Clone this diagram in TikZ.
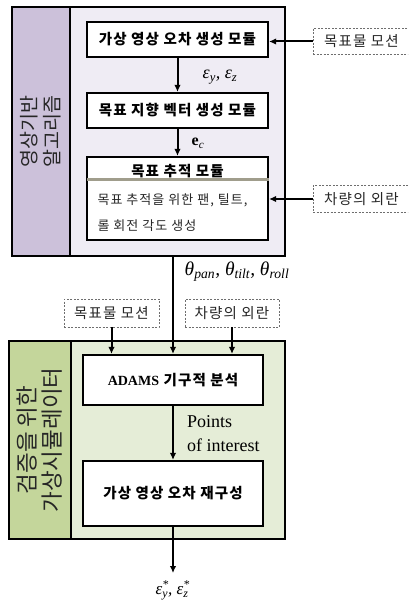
\documentclass[tikz,border=0pt]{standalone}
\usepackage{fontspec}
\setmainfont{Liberation Serif}
\newfontfamily\kr[LetterSpace=8]{Noto Sans CJK KR}
\newfontfamily\krv{Noto Sans CJK KR}
\usetikzlibrary{arrows.meta}
\definecolor{purpS}{RGB}{204,193,218}
\definecolor{purpI}{RGB}{239,236,244}
\definecolor{grnS}{RGB}{196,214,155}
\definecolor{grnI}{RGB}{229,237,215}
\definecolor{sepc}{RGB}{160,157,140}
\definecolor{dashc}{RGB}{110,110,110}
\newcommand\supsub[2]{\rlap{\textsuperscript{#1}}\textsubscript{#2}}
\begin{document}
\begin{tikzpicture}[x=1pt,y=-1pt,
  frame/.style={draw, line width=1.8pt, inner sep=0pt},
  box/.style={draw, line width=2.2pt, fill=white, inner sep=0pt, minimum width=181pt},
  title/.style={font=\kr\bfseries\fontsize{14.5}{16}\selectfont},
  dbox/.style={draw=dashc, dash pattern=on 2pt off 1.5pt, line width=0.7pt, inner sep=0pt, fill=white,
     font=\kr\fontsize{14.5}{16}\selectfont, text=black!85},
  arr/.style={-{Latex[length=7pt,width=6.5pt]}, line width=2pt},
  vlab/.style={rotate=90, align=center, text=black!85},
  mlab/.style={inner sep=0pt}]
\clip (0,0) rectangle (408,601);
\fill[white] (0,0) rectangle (408,601);
% ---------- upper block ----------
\node[frame, fill=purpI, minimum width=273pt, minimum height=249pt] (outA) at (148.5,131.5) {};
\node[frame, fill=purpS, minimum width=58pt, minimum height=249pt] (stripA) at (41,131.5) {};
\node[vlab, font=\krv\fontsize{19.5}{23}\selectfont] (labA) at (stripA) {영상기반\\알고리즘};
\node[box, minimum height=35pt, title] (b1) at (177.5,39.5) {가상 영상 오차 생성 모듈};
\node[box, minimum height=35pt, title] (b2) at (177.5,110.5) {목표 지향 벡터 생성 모듈};
\node[box, minimum height=83pt] (b3) at (177.5,198.5) {};
\node[title] (b3h) at (177.5,171) {목표 추적 모듈};
\draw[sepc, line width=3pt] (b3.west |- b3h.south) ++(1.2pt,2pt) coordinate (s1) -- (s1 -| b3.east) ++(-1.2pt,0);
\node[anchor=west, align=left, font=\kr\fontsize{13}{26}\selectfont, text=black!85] (b3t) at (94,213) {목표 추적을 위한 팬, 틸트,\\롤 회전 각도 생성};
\draw[arr] (b1.south) -- (b2.north);
\draw[arr] (b2.south) -- (b3.north);
\node[mlab, font=\fontsize{18}{20}\selectfont\itshape] (ey) at (220,77) {ε\textsubscript{y}, ε\textsubscript{z}};
\node[mlab, font=\fontsize{16}{18}\selectfont] (ec) at (198,143) {\textbf{e}\textsubscript{\itshape c}};
\node[dbox, minimum width=97pt, minimum height=26pt] (mA) at (361.5,41.5) {목표물 모션};
\node[dbox, minimum width=97pt, minimum height=27pt] (dA) at (361.5,199) {차량의 외란};
\draw[arr] (mA.west) -- (mA.west -| b1.east);
\draw[arr] (dA.west) -- (dA.west -| b3.east);
% ---------- lower block ----------
\node[frame, fill=grnI, minimum width=276pt, minimum height=198pt] (outB) at (147,440) {};
\node[frame, fill=grnS, minimum width=62pt, minimum height=198pt] (stripB) at (40,440) {};
\node[vlab, font=\krv\fontsize{22.5}{25}\selectfont] (labB) at (stripB) {검증을 위한\\가상시뮬레이터};
\node[box, minimum width=180pt, minimum height=50pt, title] (adams) at (173,380) {{\rmfamily\fontsize{14}{16}\selectfont ADAMS} 기구적 분석};
\node[box, minimum width=180pt, minimum height=65pt, title] (rec) at (173,493.5) {가상 영상 오차 재구성};
\node[dbox, minimum width=95pt, minimum height=28pt] (mB) at (111.5,313) {목표물 모션};
\node[dbox, minimum width=94pt, minimum height=28pt] (dB) at (232,313) {차량의 외란};
\draw[arr] (outA.south -| adams.north) -- (adams.north);
\draw[arr] (mB.south) -- (mB.south |- adams.north);
\draw[arr] (dB.south) -- (dB.south |- adams.north);
\node[mlab, font=\fontsize{19.5}{20}\selectfont\itshape] (th) at (237,272) {θ\textsubscript{pan}, θ\textsubscript{tilt}, θ\textsubscript{roll}};
\draw[arr] (adams.south) -- (rec.north);
\node[anchor=west, align=left, font=\fontsize{18}{24}\selectfont, inner sep=0pt] (poi) at (187,434) {Points\\of interest};
\coordinate (out) at (173,573);
\draw[arr] (rec.south) -- (out);
\node[mlab, font=\fontsize{17}{18}\selectfont\itshape] (es) at (172,590) {ε\supsub{*}{y}, ε\supsub{*}{z}};
\end{tikzpicture}
\end{document}
